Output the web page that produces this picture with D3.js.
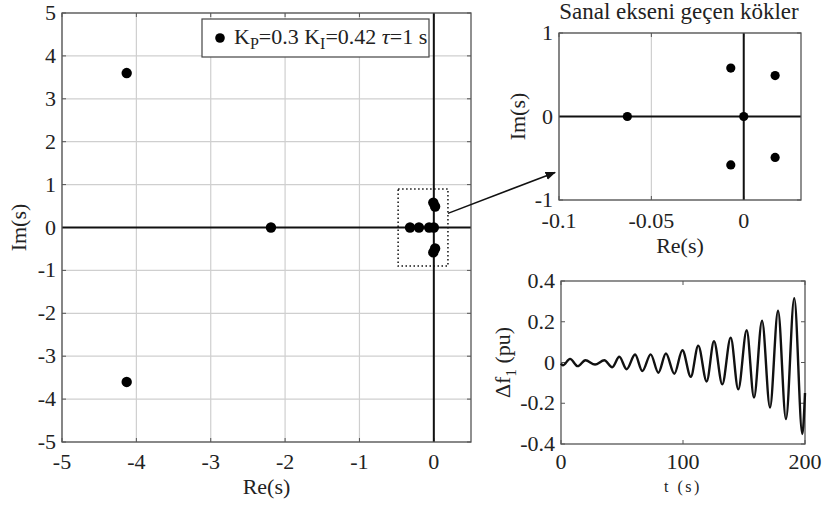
<!DOCTYPE html>
<html>
<head>
<meta charset="utf-8">
<script src="https://cdn.jsdelivr.net/npm/d3@7"></script>
<style>
  body { margin: 0; background: #fff; }
  svg { display: block; }
  text { font-family: "Liberation Serif", "Times New Roman", serif; fill: #222; }
</style>
</head>
<body>
<svg></svg>
<script>
const size = {w: 825, h: 509};
const svg = d3.select('svg')
    .attr('width', size.w)
    .attr('height', size.h);

// roots (real, imaginary)
const rootRe = [-4.13, -4.13, -2.19, -0.32, -0.2, -0.063, 0, -0.007, -0.007, 0.017, 0.017];
const rootIm = [3.6, -3.6, 0, 0, 0, 0, 0, 0.58, -0.58, 0.49, -0.49];

const mainXTicks = [-5, -4, -3, -2, -1, 0];
const mainYTicks = [-5, -4, -3, -2, -1, 0, 1, 2, 3, 4, 5];
const zoomXTicks = [-0.1, -0.05, 0];
const zoomYTicks = [-1, 0, 1];

// time response extrema
const tPts = [0, 1.5, 7.4, 13.7, 20, 27.9, 35.5, 42, 47.8, 53.8, 60.7, 66.7, 73.5, 79.8, 86, 92.9,
    99.5, 106.4, 112.5, 119.4, 125.4, 132.2, 139.1, 145.3, 152.2, 158.2, 164.8, 171.3,
    177.9, 184.4, 191.2, 197.8, 200];
const dfPts = [-0.005, -0.014, 0.018, -0.018, 0.011, -0.01, 0.011, -0.023, 0.028, -0.033, 0.039, -0.042,
    0.04, -0.05, 0.044, -0.055, 0.06, -0.07, 0.083, -0.093, 0.104, -0.107, 0.122, -0.132,
    0.158, -0.172, 0.205, -0.221, 0.254, -0.278, 0.316, -0.351, -0.15];
const tTicks = [0, 100, 200];
const dfTicks = [-0.4, -0.2, 0, 0.2, 0.4];

const fs = 22;
const fmt = d => String(d);

function frame (g, x, y, xt, yt, opt) {
    let [x0, x1] = x.range(), [y1, y0] = y.range();
    // grid
    if (opt.grid) {
        g.selectAll('.gx').data(xt).enter().append('line')
            .attr('x1', d => x(d)).attr('x2', d => x(d))
            .attr('y1', y0).attr('y2', y1)
            .attr('stroke', '#cfcfcf').attr('stroke-width', 1.2);
        g.selectAll('.gy').data(yt).enter().append('line')
            .attr('y1', d => y(d)).attr('y2', d => y(d))
            .attr('x1', x0).attr('x2', x1)
            .attr('stroke', '#cfcfcf').attr('stroke-width', 1.2);
    }
    // inward ticks on all four sides
    let tl = 4;
    xt.forEach(d => {
        g.append('line').attr('x1', x(d)).attr('x2', x(d)).attr('y1', y1).attr('y2', y1 - tl)
            .attr('stroke', '#555');
        g.append('line').attr('x1', x(d)).attr('x2', x(d)).attr('y1', y0).attr('y2', y0 + tl)
            .attr('stroke', '#555');
    });
    yt.forEach(d => {
        g.append('line').attr('y1', y(d)).attr('y2', y(d)).attr('x1', x0).attr('x2', x0 + tl)
            .attr('stroke', '#555');
        g.append('line').attr('y1', y(d)).attr('y2', y(d)).attr('x1', x1).attr('x2', x1 - tl)
            .attr('stroke', '#555');
    });
    // zero axes
    if (opt.zero) {
        g.append('line').attr('x1', x(0)).attr('x2', x(0)).attr('y1', y0).attr('y2', y1)
            .attr('stroke', '#111').attr('stroke-width', 2);
        g.append('line').attr('y1', y(0)).attr('y2', y(0)).attr('x1', x0).attr('x2', x1)
            .attr('stroke', '#111').attr('stroke-width', 2);
    }
    g.append('rect').attr('x', x0).attr('y', y0)
        .attr('width', x1 - x0).attr('height', y1 - y0)
        .attr('fill', 'none').attr('stroke', '#555').attr('stroke-width', 1.3);
    // tick labels
    g.selectAll('.lx').data(xt).enter().append('text')
        .attr('x', d => x(d)).attr('y', y1 + opt.xlab)
        .attr('text-anchor', 'middle').style('font-size', fs + 'px')
        .text(fmt);
    g.selectAll('.ly').data(yt).enter().append('text')
        .attr('x', x0 - 6).attr('y', d => y(d) + 7)
        .attr('text-anchor', 'end').style('font-size', fs + 'px')
        .text(fmt);
}

// ---------- main root plot ----------
const xMain = d3.scaleLinear().domain([-5, 0.5]).range([62, 471]);
const yMain = d3.scaleLinear().domain([-5, 5]).range([442, 13]);
const gMain = svg.append('g');
frame(gMain, xMain, yMain, mainXTicks, mainYTicks, {grid: true, zero: true, xlab: 27});

gMain.selectAll('circle.root').data(rootRe).enter().append('circle')
    .attr('cx', d => xMain(d))
    .attr('cy', (d, i) => yMain(rootIm[i]))
    .attr('r', 5.2).attr('fill', '#000');

// dotted zoom box
gMain.append('rect')
    .attr('x', xMain(-0.48)).attr('y', yMain(0.9))
    .attr('width', xMain(0.19) - xMain(-0.48))
    .attr('height', yMain(-0.9) - yMain(0.9))
    .attr('fill', 'none').attr('stroke', '#111')
    .attr('stroke-width', 1.5).attr('stroke-dasharray', '1.5,2.5');

gMain.append('text').attr('x', xMain(-2.25)).attr('y', 494)
    .attr('text-anchor', 'middle').style('font-size', fs + 'px').text('Re(s)');
gMain.append('text').attr('transform', 'translate(26,' + yMain(0) + ') rotate(-90)')
    .attr('text-anchor', 'middle').style('font-size', fs + 'px').text('Im(s)');

// legend
const leg = gMain.append('g');
leg.append('rect').attr('x', 202).attr('y', 19).attr('width', 227).attr('height', 38)
    .attr('fill', '#fff').attr('stroke', '#444').attr('stroke-width', 1.2);
leg.append('circle').attr('cx', 220).attr('cy', 38).attr('r', 4.8).attr('fill', '#000');
const lt = leg.append('text').attr('x', 234).attr('y', 44).style('font-size', fs + 'px');
lt.append('tspan').text('K');
lt.append('tspan').attr('dy', 5).style('font-size', '16px').text('P');
lt.append('tspan').attr('dy', -5).text('=0.3 K');
lt.append('tspan').attr('dy', 5).style('font-size', '16px').text('I');
lt.append('tspan').attr('dy', -5).text('=0.42 ');
lt.append('tspan').style('font-style', 'italic').text('τ');
lt.append('tspan').text('=1 s');

// ---------- zoomed inset ----------
const xZoom = d3.scaleLinear().domain([-0.1, 0.031]).range([559, 801]);
const yZoom = d3.scaleLinear().domain([-1, 1]).range([200, 33]);
const gZoom = svg.append('g');
frame(gZoom, xZoom, yZoom, zoomXTicks, zoomYTicks, {grid: true, zero: true, xlab: 28});
rootRe.forEach((d, i) => {
    if (d < -0.1) return;
    gZoom.append('circle').attr('cx', xZoom(d)).attr('cy', yZoom(rootIm[i]))
        .attr('r', 4.6).attr('fill', '#000');
});
gZoom.append('text').attr('x', 679).attr('y', 19)
    .attr('text-anchor', 'middle').style('font-size', '23px').text('Sanal ekseni geçen kökler');
gZoom.append('text').attr('x', 680).attr('y', 253)
    .attr('text-anchor', 'middle').style('font-size', fs + 'px').text('Re(s)');
gZoom.append('text').attr('transform', 'translate(525,' + yZoom(0) + ') rotate(-90)')
    .attr('text-anchor', 'middle').style('font-size', fs + 'px').text('Im(s)');

// arrow from dotted box to inset
svg.append('defs').append('marker')
    .attr('id', 'ah').attr('viewBox', '0 0 10 10')
    .attr('refX', 9).attr('refY', 5)
    .attr('markerWidth', 7).attr('markerHeight', 7)
    .attr('orient', 'auto')
    .append('path').attr('d', 'M0,1 L10,5 L0,9 Z').attr('fill', '#111');
svg.append('line')
    .attr('x1', xMain(0.19)).attr('y1', yMain(0.33))
    .attr('x2', xZoom(-0.1) - 4).attr('y2', yZoom(-0.67))
    .attr('stroke', '#111').attr('stroke-width', 1.5)
    .attr('marker-end', 'url(#ah)');

// ---------- time response ----------
const xT = d3.scaleLinear().domain([0, 200]).range([561, 805]);
const yT = d3.scaleLinear().domain([-0.4, 0.4]).range([444, 281]);
const gT = svg.append('g');
frame(gT, xT, yT, tTicks, dfTicks, {grid: false, zero: false, xlab: 25});
const line = d3.line()
    .x((d, i) => xT(tPts[i]))
    .y(d => yT(d))
    .curve(d3.curveMonotoneX);
gT.append('path').datum(dfPts)
    .attr('d', line)
    .attr('fill', 'none').attr('stroke', '#111').attr('stroke-width', 2.4);
gT.append('text').attr('x', xT(100)).attr('y', 492)
    .attr('text-anchor', 'middle').style('font-size', '16px')
    .style('letter-spacing', '2.5px').text('t (s)');
const yl = gT.append('text').attr('transform', 'translate(510,' + yT(0) + ') rotate(-90)')
    .attr('text-anchor', 'middle').style('font-size', '22px');
yl.append('tspan').text('Δf');
yl.append('tspan').attr('dy', 6).style('font-size', '15px').text('1');
yl.append('tspan').attr('dy', -6).text(' (pu)');
</script>
</body>
</html>
